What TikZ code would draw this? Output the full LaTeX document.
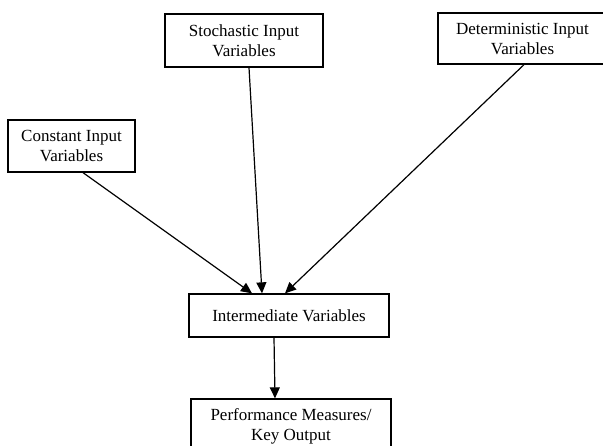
\documentclass[tikz,border=0pt]{standalone}
\usepackage{fontspec}
\setmainfont{Liberation Serif}
\usetikzlibrary{arrows.meta}
\tikzset{
    varbox/.style={draw, line width=1.3pt, align=center, inner sep=0pt, font=\fontsize{17}{20}\selectfont},
    flow/.style={line width=1.2pt, -{Triangle[length=11pt,width=10pt]}}
}

\begin{document}
\begin{tikzpicture}[x=1pt,y=-1pt]
    \useasboundingbox (0,0) rectangle (603,445);
    \clip (0,0) rectangle (603,445);
    \node[varbox, minimum width=158pt, minimum height=53pt] (stoch) at (244,40.5) {Stochastic Input\\Variables};
    \node[varbox, minimum width=169pt, minimum height=51pt] (determ) at (522.5,38.5) {Deterministic Input\\Variables};
    \node[varbox, minimum width=127pt, minimum height=52pt] (const) at (71.5,146) {Constant Input\\Variables};
    \node[varbox, minimum width=200pt, minimum height=43pt] (inter) at (289,315.5) {Intermediate Variables};
    \node[varbox, minimum width=200pt, minimum height=54pt] (perf) at (291,426) {Performance Measures/\\Key Output};
    \draw[flow] ([xshift=11.5pt]const.south) -- ([xshift=-37pt]inter.north);
    \draw[flow] ([xshift=5pt]stoch.south) -- ([xshift=-27pt]inter.north);
    \draw[flow] ([xshift=1.5pt]determ.south) -- ([xshift=-4pt]inter.north);
    \draw[flow] ([xshift=-15pt]inter.south) -- ([xshift=-16pt]perf.north);
\end{tikzpicture}
\end{document}
